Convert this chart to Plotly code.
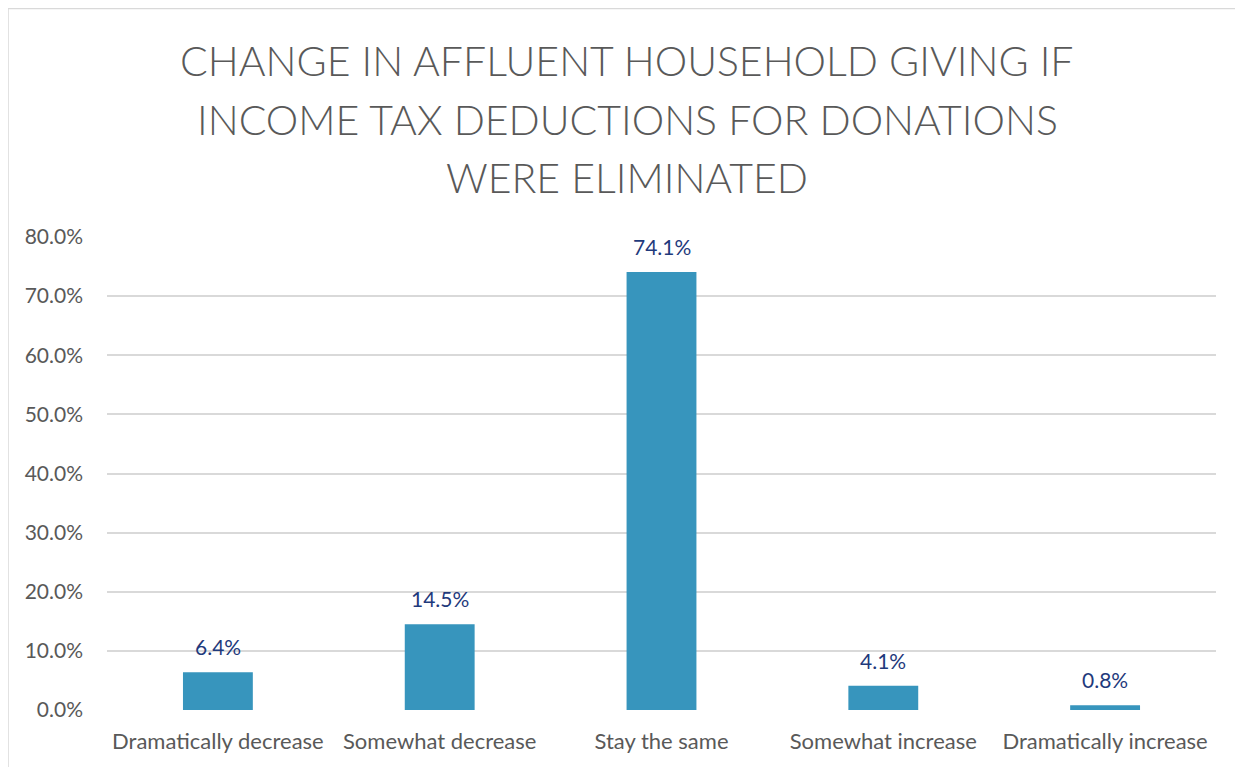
import plotly.graph_objects as go

categories = ["Dramatically decrease", "Somewhat decrease", "Stay the same",
              "Somewhat increase", "Dramatically increase"]
values = [0.064, 0.145, 0.741, 0.041, 0.008]
y_ticks = [0.0, 0.1, 0.2, 0.3, 0.4, 0.5, 0.6, 0.7, 0.8]
title_lines = ["CHANGE IN AFFLUENT HOUSEHOLD GIVING IF",
               "INCOME TAX DEDUCTIONS FOR DONATIONS",
               "WERE ELIMINATED"]

# page has an 8px body margin; figure fills the rest of the 1244x767 window
W, H = 1236, 759
L, R, T, B = 99, 28, 229, 57
pw, ph = W - L - R, H - T - B


def px_x(p):  # page pixel -> paper x
    return (p - 107) / pw


def px_y(p):  # page pixel -> paper y
    return (710 - p) / ph


fig = go.Figure(go.Bar(
    x=categories, y=values,
    marker=dict(color="#3795BD", line=dict(width=0)),
    width=0.315,
    hoverinfo="x+y",
))

annotations = []
for c, v in zip(categories, values):
    annotations.append(dict(
        x=c, y=v, xref="x", yref="y", text=f"{v * 100:.1f}%",
        showarrow=False, yanchor="bottom", xanchor="center", yshift=11,
        font=dict(family="Lato", size=21, color="#1F3A7C"),
    ))

title_centers = [60, 119, 178]
for line, yc in zip(title_lines, title_centers):
    annotations.append(dict(
        x=px_x(627), y=px_y(yc), xref="paper", yref="paper", text=line,
        showarrow=False, xanchor="center", yanchor="middle",
        font=dict(family="Lato", size=41, color="#595959", weight=300),
    ))

fig.update_layout(
    width=W, height=H,
    margin=dict(l=L, r=R, t=T, b=B, autoexpand=False),
    paper_bgcolor="white", plot_bgcolor="white",
    showlegend=False,
    annotations=annotations,
    xaxis=dict(showgrid=False, showline=False, ticks="", zeroline=False,
               tickfont=dict(family="Lato", size=22, color="#595959"),
               ticklabelstandoff=16),
    yaxis=dict(range=[0, 0.8], tickvals=y_ticks, tickformat=".1%",
               showgrid=True, gridcolor="#D9D9D9", gridwidth=2,
               zeroline=False, showline=False, ticks="",
               tickfont=dict(family="Lato", size=21, color="#595959"),
               ticklabelstandoff=23),
    shapes=[
        dict(type="line", xref="paper", yref="paper",
             x0=px_x(8), x1=px_x(8), y0=px_y(790), y1=px_y(8.5),
             line=dict(color="#D9D9D9", width=1.5), layer="below"),
        dict(type="line", xref="paper", yref="paper",
             x0=px_x(8), x1=px_x(1235), y0=px_y(8.5), y1=px_y(8.5),
             line=dict(color="#D9D9D9", width=1.5), layer="below"),
    ],
)

fig.write_html("out.html")
